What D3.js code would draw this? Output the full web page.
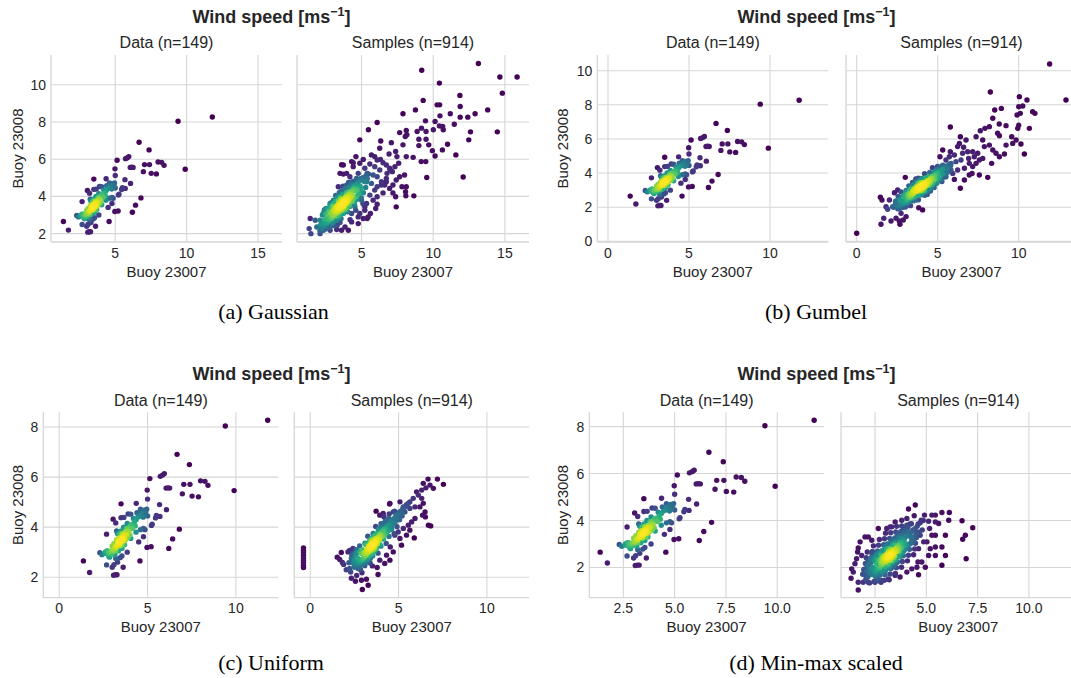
<!DOCTYPE html>
<html><head><meta charset="utf-8">
<script src="https://cdn.jsdelivr.net/npm/d3@7"></script>
<style>body{margin:0;background:#fff}svg{display:block}</style>
</head><body><svg id="c" width="1071" height="678"></svg>
<script>
// ---------- DATA ----------
const chartTitle = "Wind speed [ms";
const xLabel = "Buoy 23007";
const yLabel = "Buoy 23008";
const dataTitle = "Data (n=149)";
const sampleTitle = "Samples (n=914)";
const captions = ["(a) Gaussian", "(b) Gumbel", "(c) Uniform", "(d) Min-max scaled"];

const ticksA_x = [5, 10, 15], ticksA_y = [2, 4, 6, 8, 10];
const ticksB_x = [0, 5, 10], ticksB_y = [0, 2, 4, 6, 8, 10];
const ticksC_x = [0, 5, 10], ticksC_y = [2, 4, 6, 8];
const ticksD_x = [2.5, 5.0, 7.5, 10.0], ticksD_y = [2, 4, 6, 8];

// observed data, buoy 23007 vs buoy 23008 (same in all four sub-figures)
const observed = [
[11.8,8.27],[9.4,8.04],[9.9,5.46],[6.67,6.91],[7.37,6.5],[5.13,5.94],[5.72,6.03],[5.85,6.08],[5.95,6.14],[6.05,5.56],
[6.15,5.57],[6.25,5.56],[7.05,5.71],[7.4,5.71],[8.0,5.85],[8.25,5.83],[8.42,5.67],[6.97,5.33],[7.52,5.24],[7.88,5.21],
[4.98,5.48],[5.0,5.12],[3.5,4.93],[4.36,4.95],[6.8,3.92],[6.42,3.53],[6.2,3.15],[4.97,3.19],[5.2,3.22],[4.57,2.65],
[1.37,2.65],[1.72,2.19],[3.08,2.08],[3.18,2.1],[3.27,2.1],[3.62,2.4],[5.68,4.9],[6.07,4.7],[5.7,4.43],[5.45,4.37],
[5.5,4.47],[5.22,4.07],[5.26,4.12],[4.77,3.95],[4.77,3.62],[4.5,3.41],[2.68,3.72],[2.68,2.49],[2.3,2.98],[2.42,2.9],
[3.05,4.32],[3.2,4.17],[3.5,4.38],[3.66,4.39],[3.9,4.53],[4.05,4.52],[4.4,4.58],[4.6,4.72],[4.7,4.62],[4.8,4.68],
[4.9,4.62],[4.65,4.55],[4.85,4.5],[4.95,4.72],[4.75,4.4],[4.55,4.45],[5.0,4.45],[4.35,3.8],[4.6,3.9],[4.85,3.9],
[3.0,2.4],[3.1,2.5],[3.3,2.6],[3.45,2.78],[3.55,2.85],[3.85,3.0],[3.2,2.75],[2.85,2.8],[2.6,2.95],[2.75,3.05],
[3.5,3.5],[3.55,3.55],[3.45,3.45],[3.6,3.55],[3.4,3.45],[3.55,3.45],[3.5,3.6],[3.45,3.35],[3.65,3.65],[3.6,3.5],
[3.35,3.4],[3.5,3.4],[3.4,3.55],[3.7,3.7],[3.3,3.3],[3.75,3.8],[3.25,3.25],[3.65,3.45],[3.35,3.55],[3.8,3.7],
[3.2,3.15],[3.6,3.7],[3.4,3.3],[3.85,3.85],[3.15,3.2],[3.7,3.55],[3.3,3.45],[3.9,3.95],[3.1,3.05],[3.55,3.75],
[3.45,3.25],[3.95,3.8],[3.05,3.1],[4.0,4.05],[3.0,2.95],[3.75,3.5],[3.25,3.5],[4.1,4.1],[2.95,3.05],[3.6,3.3],
[3.4,3.7],[4.15,3.95],[2.9,2.9],[3.8,3.95],[3.2,3.05],[4.25,4.2],[2.85,3.0],[3.5,3.85],[3.55,3.15],[4.3,4.05],
[3.1,3.35],[3.9,3.6],[2.75,2.95],[4.35,4.3],[3.3,3.75],[3.7,3.3],[4.0,3.7],[3.0,3.25],[2.8,2.85],[4.2,4.35],
[3.65,4.0],[3.35,3.05],[4.45,4.4],[2.7,3.05],[3.85,4.15],[3.15,2.9],[4.05,3.55],[3.25,3.85],[2.6,3.0]
];

// Gaussian copula samples
const samplesGaussian = [
[13.15,11.14],[9.2,10.78],[14.65,10.42],[15.85,10.42],[10.43,10.09],[14.82,9.55],[11.86,9.43],[9.3,9.16],[10.27,8.92],[10.45,8.92],
[11.88,8.83],[13.8,8.65],[8.76,8.65],[7.89,8.44],[11.19,8.44],[10.47,8.33],[11.88,8.26],[12.41,8.26],[12.92,8.44],[9.46,8.06],
[10.13,8.03],[6.09,7.97],[11.47,7.88],[10.43,7.79],[10.66,7.76],[5.48,7.58],[8.12,7.54],[9.18,7.67],[10.01,7.58],[10.7,7.58],
[8.88,7.49],[9.5,7.49],[12.6,7.47],[14.47,7.47],[7.66,7.43],[8.16,7.31],[8.05,7.22],[4.88,7.04],[6.34,6.98],[7.08,6.89],
[7.89,6.77],[9.0,7.07],[9.0,6.73],[9.5,7.07],[9.69,6.77],[12.48,7.04],[11.0,6.8],[9.94,6.46],[10.13,6.17],[10.64,6.5],
[11.58,6.23],[7.38,6.41],[6.92,6.28],[6.27,6.59],[7.47,6.14],[7.59,5.78],[7.33,5.6],[8.12,6.14],[8.6,6.1],[9.16,5.87],
[9.48,5.87],[9.55,5.02],[12.09,5.04],[4.42,5.81],[3.61,5.7],[3.73,5.2],[7.0,5.42],[6.73,4.97],[6.39,4.61],[6.73,4.79],
[5.92,4.34],[6.5,4.19],[7.19,4.19],[7.38,3.98],[8.09,4.03],[8.65,4.03],[7.42,3.44],[5.99,3.35],[6.09,3.58],[5.62,3.08],
[5.39,2.81],[1.42,2.81],[1.35,2.27],[1.47,2.0],[2.11,2.0],
[5.69,6.23],[5.92,6.14],[6.09,5.96],[6.32,5.99],[6.5,5.81],[6.73,5.69],[6.96,5.51],[7.15,5.33],[6.78,5.24],[6.27,5.42],
[5.92,5.6],[5.58,5.74],[5.23,5.51],[5.39,5.24],[5.81,5.15],[6.09,5.06],[6.39,4.79],[6.62,4.61],[5.35,4.79],[5.69,4.7],
[6.09,4.52],[6.96,4.43],[7.19,4.61],[7.42,4.88],[7.66,5.06],[8.0,5.15],[7.82,4.52],[8.12,4.52],[8.07,4.25],[5.58,4.07],
[5.81,3.8],[6.09,3.98],[5.35,3.62],[5.23,3.26],[5.46,2.9],[4.77,2.9],[4.31,2.63],[3.85,2.36],[3.27,2.22],[2.81,2.18],
[2.34,2.18],[4.08,2.18],[3.61,2.18],[1.88,2.36],[2.23,2.54],[1.77,2.72],[4.42,5.6],[3.96,5.24],[4.19,5.06],[4.77,5.24],
[4.65,4.97],[3.73,5.69],[4.88,5.78],[5.12,5.99],[4.61,6.14],[4.31,5.87],
[4.54,3.44],[4.88,3.08],[5.12,2.81],[4.77,2.54],[4.31,3.08],[5.23,3.44],[5.0,3.8],[4.6,3.25],[5.1,3.6],[4.2,2.75],
[3.04,3.8],[3.38,4.52],[3.5,5.24],[2.81,3.62],[2.34,3.08],[2.53,3.35],
[3.6,3.6],[3.5,3.5],[3.7,3.7],[3.4,3.45],[3.8,3.75],[3.55,3.7],[3.65,3.5],[3.3,3.3],[3.9,3.9],[3.45,3.6],
[3.75,3.55],[3.2,3.2],[4.0,4.0],[3.35,3.5],[3.85,3.65],[3.1,3.05],[4.1,4.1],[3.6,3.85],[3.6,3.35],[3.0,3.0],
[4.2,4.2],[3.25,3.45],[3.95,3.75],[2.9,2.9],[4.3,4.3],[3.4,3.75],[3.8,3.45],[2.8,2.8],[4.4,4.4],[3.15,3.35],
[4.05,3.85],[2.7,2.7],[4.5,4.5],[3.5,3.95],[3.7,3.25],[2.6,2.6],[4.6,4.6],[3.0,3.25],[4.2,3.95],[2.5,2.5],
[4.75,4.7],[3.3,3.9],[3.9,3.3],[2.4,2.45],[4.85,4.85],[2.85,3.1],[4.35,4.05],[2.3,2.35],[5.0,4.9],[3.2,4.05],
[4.0,3.4],[2.55,2.8],[4.6,4.3],[2.75,3.2],[4.45,3.9],[2.35,2.6],[4.9,4.55],[3.05,3.6],[4.15,3.55],[2.2,2.3],
[5.1,5.0],[3.45,4.2],[3.75,3.1],[2.65,3.0],[4.7,4.35],[2.95,3.45],[4.3,3.75],[2.45,2.75],[4.95,4.4],[3.6,4.3],
[3.55,3.0],[2.15,2.45],[5.2,4.8],[3.85,4.4],[3.4,2.85],[2.5,3.05],[4.8,4.15],[2.8,3.5],[4.5,3.7],[2.25,2.2],
[5.3,5.1],[3.95,4.6],[3.2,2.7],[2.6,3.3],[4.65,4.0],[2.1,2.15],[5.4,4.95],[3.7,4.55],[3.0,2.6],[4.25,4.65],
[2.9,2.45],[4.1,4.75],[3.5,2.6],[2.4,3.2],[5.0,4.2],[2.7,2.35],[4.4,4.8],[3.3,2.45],[5.5,5.2],[2.05,2.35],
[3.7,3.6],[3.75,3.65],[3.65,3.55],[3.8,3.7],[3.6,3.5],[3.7,3.7],[3.7,3.5],[3.85,3.75],[3.55,3.45],[3.8,3.6],
[3.6,3.6],[3.9,3.8],[3.5,3.4],[3.75,3.75],[3.65,3.45],[3.95,3.85],[3.45,3.35],[3.85,3.65],[3.55,3.55],[4.0,3.9],
[3.4,3.3],[3.9,3.7],[3.5,3.5],[4.05,3.95],[3.35,3.25],[3.8,3.85],[3.6,3.35],[4.1,3.95],[3.3,3.25],[3.95,3.75],
[3.45,3.45],[4.15,4.05],[3.25,3.15],[3.7,3.85],[3.7,3.35],[4.2,4.1],[3.2,3.1],[4.0,3.8],[3.4,3.4],[4.25,4.1],
[3.15,3.05],[3.85,3.9],[3.55,3.3],[4.3,4.2],[3.1,3.0],[4.05,3.85],[3.35,3.35],[4.35,4.25],[3.05,2.95],[3.65,3.8],
[3.75,3.4],[4.4,4.3],[3.0,2.9],[4.1,3.8],[3.3,3.4],[3.9,4.0],[3.5,3.2],[4.45,4.35],[2.95,2.85],[3.8,3.5],
[3.6,3.75],[4.2,3.9],[3.2,3.3],[4.0,4.05],[3.4,3.15],[4.5,4.35],[2.9,2.8],[3.95,3.6],[3.45,3.65],[4.3,4.0],
[3.1,3.2],[3.55,3.9],[3.85,3.3],[4.15,4.2],[3.25,2.95],[4.55,4.45],[2.85,2.8],[4.05,3.7],[3.35,3.55],
[2.48,2.25],[2.11,2.72],[3.11,2.43],[2.95,2.62],[2.58,3.09],[2.42,3.29],[3.57,2.8],[3.42,2.99],[3.05,3.46],[2.89,3.66],
[4.04,3.17],[3.89,3.37],[3.51,3.83],[3.36,4.03],[4.51,3.54],[4.35,3.74],[3.98,4.21],[3.83,4.4],[4.98,3.92],[4.82,4.11],
[4.45,4.58],[4.3,4.77],[5.29,4.48],[4.92,4.95],[2.79,2.34],[2.27,3.0],[3.26,2.71],[2.74,3.37],[3.73,3.09],[3.21,3.74],
[4.19,3.46],[3.67,4.11],[4.66,3.83],[4.14,4.49],[5.13,4.2],[4.61,4.86]
];

// Gumbel copula samples
const samplesGumbel = [
[11.91,10.39],[12.92,8.28],[8.25,8.75],[10.04,8.48],[10.51,8.28],[8.52,7.7],[8.93,7.79],[10.0,7.89],[10.25,7.93],[10.86,7.6],
[11.0,7.5],[9.9,7.4],[10.1,7.5],[8.4,7.21],[8.8,6.88],[9.22,6.78],[10.66,6.62],[9.94,6.62],[10.0,6.8],[5.78,6.7],
[7.63,6.48],[7.92,6.62],[8.19,6.72],[8.7,6.33],[8.81,6.19],[9.57,6.13],
[6.4,6.13],[6.75,5.94],[7.37,6.13],[7.78,5.94],[9.84,5.94],[10.14,5.7],[9.63,5.74],[9.22,5.64],[8.19,5.64],[8.4,5.35],
[7.88,5.55],[8.6,5.16],[9.12,5.12],[8.81,4.96],[10.35,5.12],[8.33,4.57],[7.78,4.86],[7.26,4.96],[7.47,5.16],[6.91,4.86],
[7.16,5.25],[6.95,3.89],[7.12,3.98],[7.57,3.89],[8.09,3.75],[6.4,3.11],[6.03,3.63],[6.65,3.59],[5.93,3.98],[6.65,4.28],
[5.31,5.35],[5.14,4.96],[5.78,5.25],[6.23,5.55],[6.34,5.74],[6.6,5.51],
[5.51,4.77],[5.72,4.96],[6.03,5.06],[5.82,4.57],[6.13,4.67],[6.44,4.77],[6.54,5.16],[6.85,5.25],[6.95,4.57],[7.37,4.57],
[7.57,4.77],[7.16,4.38],[6.23,4.18],[5.82,4.18],[5.31,4.28],[4.9,4.18],[5.51,3.79],[5.21,3.59],[4.9,3.4],[4.59,3.2],
[4.18,2.91],[3.87,2.71],[3.83,1.97],[4.07,1.84],[3.66,2.42],[3.35,2.52],
[3.0,3.75],[1.46,2.58],[1.56,2.42],[1.5,1.0],[1.67,1.35],[2.12,1.19],[2.63,1.19],[2.67,1.0],[2.88,1.25],[0.0,0.47],
[1.91,1.88],[2.22,2.03],[2.33,2.85],[2.53,3.01],[1.81,2.03],[2.02,2.42],[2.84,2.03],[3.15,2.23],[2.74,1.64],[2.43,1.35],[3.05,1.45],
[4.0,3.2],[3.9,3.15],[4.1,3.3],[3.8,3.05],[4.2,3.35],[3.95,3.3],[4.05,3.1],[3.7,2.95],[4.3,3.45],[3.85,3.25],
[4.15,3.15],[3.6,2.9],[4.4,3.5],[3.75,3.15],[4.25,3.25],[3.5,2.8],[4.5,3.6],[4.0,3.45],[4.0,2.95],[3.4,2.7],
[4.6,3.7],[3.65,3.1],[4.35,3.3],[3.3,2.6],[4.7,3.8],[3.8,3.4],[4.2,3.0],[3.2,2.55],[4.8,3.85],[3.55,3.1],
[4.45,3.3],[3.1,2.45],[4.9,3.95],[3.9,3.55],[4.1,2.85],[3.0,2.35],[5.0,4.0],[3.45,2.95],[4.55,3.45],[2.9,2.3],
[5.1,4.1],[3.7,3.45],[4.3,2.95],[2.8,2.2],[5.2,4.15],[3.25,2.8],[4.75,3.6],[2.7,2.15],[5.3,4.2],[4.05,3.65],
[3.95,2.75],[2.6,2.05],[5.45,4.3],[3.15,2.75],[4.85,3.65],[3.5,3.3],[4.5,3.1],[2.95,2.6],[5.05,3.8],[3.35,3.15],
[4.65,3.25],[2.75,2.4],[5.25,3.95],[3.6,3.5],[4.4,2.9],[3.05,2.2],[4.95,4.2],[2.5,2.1],[5.5,4.4],[3.8,3.7],
[4.2,2.7],[2.85,2.0],[5.15,4.35],[3.3,3.0],[4.7,3.4],[2.65,2.45],[5.35,3.95],[3.55,2.6],[4.45,3.8],[2.4,2.2],
[5.6,4.25],[3.75,2.7],[4.25,3.7],[3.1,2.9],[4.9,3.5],[2.55,1.9],[5.7,4.5],[3.2,2.35],[4.8,4.05],[3.65,3.65],
[4.35,2.75],[2.3,2.0],[5.8,4.45],[3.0,2.75],[5.0,3.65],[3.45,3.45],[4.55,2.95],[2.45,2.35],[5.55,4.05],
[3.95,3.2],[4.0,3.25],[3.9,3.15],[4.05,3.2],[3.85,3.2],[4.0,3.15],[3.9,3.25],[4.1,3.3],[3.8,3.1],[4.05,3.3],
[3.85,3.1],[4.15,3.3],[3.75,3.1],[4.1,3.2],[3.8,3.2],[4.2,3.35],[3.7,3.05],[4.0,3.35],[3.9,3.05],[4.25,3.4],
[3.65,3.0],[4.15,3.4],[3.75,3.0],[4.3,3.45],[3.6,2.95],[4.2,3.25],[3.7,3.15],[4.35,3.5],[3.55,2.9],[3.95,3.4],
[3.95,3.0],[4.4,3.5],[3.5,2.85],[4.25,3.3],[3.65,3.1],[4.45,3.55],[3.45,2.85],[4.1,3.45],[3.8,2.95],[4.5,3.6],
[3.4,2.8],[4.3,3.35],[3.6,3.05],[4.55,3.65],[3.35,2.75],[3.85,3.4],[4.05,3.0],[4.6,3.65],[3.3,2.7],[4.35,3.55],
[3.55,2.95],[4.65,3.7],[3.25,2.65],[4.2,3.15],[3.7,3.25],[4.0,3.05],[3.9,3.35],
[2.69,1.94],[2.4,2.35],[3.32,2.09],[3.17,2.3],[2.88,2.7],[2.74,2.9],[3.81,2.44],[3.66,2.65],[3.37,3.05],[3.22,3.25],
[4.29,2.8],[4.15,3.0],[3.85,3.4],[3.71,3.61],[4.78,3.15],[4.63,3.35],[4.34,3.75],[4.19,3.96],[5.26,3.5],[5.12,3.7],
[4.83,4.1],[4.68,4.31],[5.6,4.05],[5.31,4.46],[3.01,2.01],[2.56,2.63],[3.49,2.37],[3.05,2.98],[3.98,2.72],[3.54,3.33],
[4.47,3.07],[4.02,3.68],[4.95,3.42],[4.51,4.04],[5.44,3.77],[4.99,4.39]
];

// Uniform-marginal samples
const samplesUniform = [
[-0.38,3.17],[-0.38,3.08],[-0.38,2.99],[-0.38,2.88],[-0.38,2.77],[-0.38,2.68],[-0.38,2.59],[-0.38,2.48],[-0.38,2.39],
[7.2,5.92],[7.54,5.71],[6.67,5.92],[6.97,5.55],[6.4,5.75],[6.55,5.57],[6.78,5.68],[6.31,5.48],
[6.02,5.41],[6.12,5.28],[5.83,5.15],[5.64,5.01],[6.31,5.15],[6.4,4.95],[6.21,4.81],[5.93,4.81],[5.64,4.75],[5.45,4.88],
[5.36,4.61],[5.17,4.55],[4.89,4.48],[4.7,4.61],[4.51,4.95],[5.08,5.01],[5.27,4.81],[6.5,4.61],[6.36,4.48],[5.93,4.35],
[5.74,4.21],[5.55,4.08],[5.27,3.95],[4.98,3.81],[4.79,3.68],[5.08,3.55],[5.45,3.68],[5.64,3.88],
[4.49,4.92],[3.73,4.64],[6.52,4.41],[6.69,4.08],[6.82,4.05],[5.89,3.57],[5.17,3.28],[4.53,3.21],[1.53,2.8],[1.67,2.71],
[1.82,2.59],[1.89,2.51],[1.76,2.99],[2.23,3.07],[2.29,2.21],[2.23,2.35],[2.56,1.84],[2.9,1.88],[3.18,1.92],[3.28,1.68],
[2.95,1.51],[3.84,2.11],[3.79,2.39],[3.52,2.45],[3.94,2.68],[4.22,2.55],[4.51,2.68],[4.32,2.88],[4.7,3.01],[3.94,4.48],
[4.13,4.55],[2.42,3.15],[2.14,3.01],[2.33,2.75],[2.52,2.61],[2.71,2.35],
[3.55,3.3],[3.45,3.2],[3.65,3.4],[3.35,3.1],[3.75,3.5],[3.5,3.4],[3.6,3.2],[3.25,3.0],[3.85,3.6],[3.4,3.3],
[3.7,3.3],[3.15,2.9],[3.95,3.7],[3.3,3.2],[3.8,3.4],[3.05,2.8],[4.05,3.8],[3.55,3.5],[3.55,3.1],[2.95,2.7],
[4.15,3.9],[3.2,3.1],[3.9,3.5],[2.85,2.65],[4.25,3.95],[3.45,3.55],[3.65,3.05],[2.75,2.6],[4.35,4.05],[3.1,3.0],
[4.0,3.6],[2.7,2.75],[4.45,4.1],[3.65,3.65],[3.45,2.95],[2.65,2.5],[4.55,4.2],[3.0,2.95],[4.1,3.65],[2.6,2.8],
[4.65,4.3],[3.8,3.75],[3.3,2.85],[2.55,2.65],[4.75,4.35],[2.9,2.95],[4.2,3.7],[2.5,2.9],[4.85,4.45],[3.9,3.9],
[3.2,2.7],[2.45,2.55],[4.95,4.5],[2.8,3.0],[4.3,3.75],[2.4,2.95],[5.05,4.6],[4.05,4.05],[3.1,2.6],[2.5,2.4],
[5.15,4.65],[2.7,3.05],[4.4,3.85],[3.35,3.45],[3.75,3.15],[4.6,4.0],[3.0,2.55],[5.25,4.75],[2.6,3.1],[4.5,3.9],
[3.6,3.7],[3.5,2.9],[4.7,4.15],[2.9,2.5],[5.35,4.8],[3.85,3.95],[3.25,2.6],[4.8,4.2],[2.35,2.7],[5.45,4.9],
[4.15,4.15],[2.95,3.1],[4.9,4.3],[3.4,2.75],[5.55,4.95],[2.75,2.4],[4.25,4.25],[5.0,4.35],[3.15,3.3],[3.95,3.3],
[5.1,4.5],[2.85,2.3],[4.45,4.35],[5.2,4.45],
[3.55,3.3],[3.6,3.35],[3.5,3.25],[3.65,3.4],[3.45,3.2],[3.6,3.25],[3.5,3.35],[3.7,3.45],[3.4,3.15],[3.65,3.3],
[3.45,3.3],[3.75,3.5],[3.35,3.1],[3.7,3.4],[3.4,3.2],[3.8,3.55],[3.3,3.05],[3.6,3.45],[3.5,3.15],[3.85,3.6],
[3.25,3.0],[3.75,3.45],[3.35,3.2],[3.9,3.6],[3.2,2.95],[3.8,3.45],[3.3,3.15],[3.95,3.7],[3.15,2.9],[3.55,3.5],
[3.55,3.1],[4.0,3.7],[3.1,2.85],[3.85,3.5],[3.25,3.1],[4.05,3.8],[3.05,2.8],[3.7,3.55],[3.4,3.05],[4.1,3.8],
[3.0,2.75],[3.9,3.5],[3.2,3.05],[4.15,3.85],[2.95,2.7],[3.45,3.4],[3.65,3.2],[4.2,3.9],[2.9,2.7],[3.95,3.65],
[3.15,2.95],[4.25,3.95],[2.85,2.65],[3.8,3.35],[3.3,3.25],[3.6,3.15],[3.5,3.45],
[2.33,1.96],[2.04,2.3],[2.93,2.18],[2.78,2.35],[2.5,2.69],[2.35,2.86],[3.39,2.57],[3.24,2.74],[2.95,3.08],[2.8,3.25],
[3.84,2.96],[3.69,3.13],[3.41,3.47],[3.26,3.64],[4.3,3.35],[4.15,3.52],[3.86,3.86],[3.71,4.03],[4.75,3.74],[4.61,3.91],
[4.32,4.25],[4.17,4.42],[5.06,4.3],[4.78,4.64],[2.63,2.07],[2.19,2.58],[3.09,2.46],[2.65,2.97],[3.54,2.85],[3.1,3.36],
[4.0,3.24],[3.56,3.75],[4.46,3.63],[4.01,4.14],[4.91,4.02],[4.47,4.53]
];

// Min-max scaled samples
const samplesMinMax = [
[4.46,4.66],[4.13,4.49],[4.41,4.2],[5.76,4.34],[6.12,4.34],[6.74,3.99],[7.26,3.69],[6.9,3.37],[6.77,3.2],[6.94,2.37],
[5.44,2.51],[5.76,2.09],[5.93,2.51],[5.76,2.87],[5.11,3.97],[5.6,3.87],[5.16,3.66],[5.27,3.37],[5.44,3.37],[4.7,3.37],
[4.87,3.09],[4.62,2.8],[5.19,2.8],[4.59,2.23],[4.62,1.69],[1.68,1.04],[1.33,1.54],[1.68,1.37],[1.92,1.37],[2.17,1.37],
[2.5,1.37],[2.79,1.37],[1.68,2.83],[1.65,2.66],[2.17,3.3],[2.34,3.16],
[6.09,4.01],[5.44,3.94],[5.27,4.23],[4.91,4.23],[4.75,4.01],[5.44,4.23],[5.93,3.37],[5.44,2.87],[5.03,3.09],[5.11,2.51],
[4.78,2.23],[4.54,2.01],[4.95,2.01],[4.29,1.94],[4.05,1.8],[3.72,1.59],[3.48,1.66],[3.15,1.51],[2.83,1.44],[1.36,1.94],
[1.52,2.16],[1.44,1.8],[1.6,2.37],[1.85,2.51],[1.77,3.09],[2.01,3.3],[2.66,3.66],[3.07,3.66],[3.23,3.73],[3.48,3.94],
[3.8,4.01],[4.05,4.09],
[3.25,2.55],[3.15,2.45],[3.35,2.65],[3.05,2.35],[3.45,2.75],[3.2,2.65],[3.3,2.45],[2.95,2.25],[3.55,2.85],[3.1,2.55],
[3.4,2.55],[2.85,2.15],[3.65,2.95],[3.0,2.45],[3.5,2.65],[2.75,2.05],[3.75,3.05],[3.25,2.8],[3.25,2.3],[2.65,1.95],
[3.85,3.15],[2.9,2.4],[3.6,2.7],[2.55,1.9],[3.95,3.25],[3.15,2.8],[3.35,2.3],[2.45,1.8],[4.05,3.35],[2.8,2.35],
[3.7,2.8],[2.4,2.0],[4.15,3.45],[3.35,2.95],[3.15,2.15],[2.35,1.7],[4.25,3.5],[2.7,2.3],[3.8,2.85],[2.3,1.95],
[4.35,3.6],[3.5,3.1],[3.0,2.05],[2.25,1.75],[4.45,3.65],[2.6,2.35],[3.9,2.95],[2.2,2.1],[4.55,3.75],[3.65,3.25],
[2.9,1.9],[2.15,1.6],[4.6,3.85],[2.5,2.4],[4.0,3.0],[2.1,1.85],[3.05,2.75],[3.45,2.35],[4.3,3.2],[2.6,1.75],
[4.7,3.9],[2.3,2.3],[3.8,3.35],[3.0,1.85],[4.1,3.7],[2.0,1.7],[4.4,3.3],[2.75,2.6],[3.55,2.2],[4.8,3.6],
[2.4,2.45],[3.95,3.5],[3.25,1.95],[2.05,1.5],[4.5,3.45],[2.85,2.7],[3.7,2.45],[4.2,3.85],[2.55,2.55],[3.4,2.05],
[4.65,3.5],[2.15,2.25],[3.1,3.0],[3.9,2.7],[1.95,1.9],[4.85,4.0],[2.5,1.65],[3.6,3.45],[2.35,2.6],[4.25,3.05],[2.8,1.8],
[3.2,2.5],[3.25,2.55],[3.15,2.45],[3.3,2.6],[3.1,2.4],[3.25,2.45],[3.15,2.55],[3.35,2.65],[3.05,2.35],[3.3,2.5],
[3.1,2.5],[3.4,2.7],[3.0,2.3],[3.35,2.6],[3.05,2.4],[3.45,2.75],[2.95,2.25],[3.25,2.65],[3.15,2.35],[3.5,2.8],
[2.9,2.2],[3.4,2.6],[3.0,2.4],[3.55,2.8],[2.85,2.15],[3.45,2.65],[2.95,2.35],[3.6,2.9],[2.8,2.1],[3.2,2.7],
[3.2,2.3],[3.65,2.9],[2.75,2.05],[3.5,2.7],[2.9,2.3],[3.7,3.0],[2.7,2.0],[3.35,2.75],[3.05,2.25],[3.75,3.0],
[2.65,1.95],[3.55,2.7],[2.85,2.25],[3.8,3.05],[2.6,1.9],[3.1,2.6],[3.3,2.4],[3.85,3.1],[2.55,1.85],[3.6,2.85],
[2.8,2.2],[3.9,3.15],[2.5,1.8],[3.45,2.5],[2.95,2.5],[3.25,2.35],[3.15,2.6],
[2.23,1.34],[1.9,1.71],[2.7,1.43],[2.53,1.61],[2.19,1.98],[2.03,2.17],[3.19,1.47],[2.99,1.69],[2.83,1.88],[2.49,2.25],
[2.32,2.43],[2.12,2.66],[3.49,1.74],[3.29,1.96],[3.12,2.15],[2.79,2.52],[2.62,2.7],[2.42,2.92],[3.79,2.01],[3.59,2.23],
[3.42,2.42],[3.08,2.79],[2.92,2.97],[2.71,3.19],[4.08,2.28],[3.88,2.5],[3.71,2.68],[3.38,3.05],[3.21,3.24],[3.01,3.46],
[4.38,2.54],[4.18,2.77],[4.01,2.95],[3.67,3.32],[3.51,3.51],[3.31,3.73],[4.47,3.03],[4.31,3.22],[3.97,3.59],[3.8,3.77],
[4.6,3.49],[4.27,3.86],
[2.45,1.4],[1.98,1.92],[2.95,1.45],[2.74,1.67],[2.28,2.19],[2.07,2.41],[3.24,1.72],[3.04,1.94],[2.57,2.46],[2.37,2.68],
[3.54,1.99],[3.34,2.21],[2.87,2.73],[2.67,2.95],[3.83,2.25],[3.63,2.48],[3.16,2.99],[2.96,3.22],[4.13,2.52],[3.93,2.74],
[3.46,3.26],[3.26,3.48],[4.43,2.79],[4.22,3.01],[3.76,3.53],[3.55,3.75],[4.52,3.28],[4.05,3.8],
[2.62,1.51],[2.44,1.71],[2.28,1.88],[2.11,2.08],[2.91,1.78],[2.74,1.98],[2.58,2.15],[2.4,2.35],[3.21,2.05],[3.03,2.24],
[2.87,2.42],[2.7,2.61],[3.5,2.32],[3.33,2.51],[3.17,2.69],[3.0,2.88],[3.8,2.59],[3.63,2.78],[3.47,2.96],[3.29,3.15],
[4.1,2.85],[3.92,3.05],[3.76,3.22],[3.59,3.42],[4.39,3.12],[4.22,3.32],[4.06,3.49],[3.88,3.69]
];

// ---------- RENDERING ----------
const svg = d3.select("#c");
const SANS = "'Liberation Sans', Arial, sans-serif";
const TXT = "#262626", GRID = "#d6d6d6";

function kde(pts, bwScale) {
  const n = pts.length;
  const mx = d3.mean(pts, p => p[0]), my = d3.mean(pts, p => p[1]);
  let sxx = 0, syy = 0, sxy = 0;
  pts.forEach(([x, y]) => { sxx += (x-mx)**2; syy += (y-my)**2; sxy += (x-mx)*(y-my); });
  sxx /= n-1; syy /= n-1; sxy /= n-1;
  const f2 = Math.pow(n, -1/3) * bwScale;
  const a = sxx*f2, b = sxy*f2, d = syy*f2, det = a*d - b*b;
  const ia = d/det, ib = -b/det, id = a/det;
  return pts.map(([x, y]) => {
    let s = 0;
    for (const [u, v] of pts) { const dx = x-u, dy = y-v; s += Math.exp(-0.5*(ia*dx*dx + 2*ib*dx*dy + id*dy*dy)); }
    return s;
  });
}

function drawPanel(x0, x1, y0, y1, xDom, yDom, xt, yt, fmt, pts, showY, bwScale) {
  const xs = d3.scaleLinear().domain(xDom).range([x0, x1]);
  const ys = d3.scaleLinear().domain(yDom).range([y1, y0]);
  const g = svg.append("g");
  g.selectAll(".gx").data(xt).join("line")
    .attr("x1", d => xs(d)).attr("x2", d => xs(d)).attr("y1", y0).attr("y2", y1)
    .attr("stroke", GRID).attr("stroke-width", 1.1);
  g.selectAll(".gy").data(yt).join("line")
    .attr("y1", d => ys(d)).attr("y2", d => ys(d)).attr("x1", x0).attr("x2", x1)
    .attr("stroke", GRID).attr("stroke-width", 1.1);
  g.append("line").attr("x1", x0).attr("x2", x0).attr("y1", y0).attr("y2", y1).attr("stroke", GRID).attr("stroke-width", 1.3);
  g.append("line").attr("x1", x0).attr("x2", x1).attr("y1", y1).attr("y2", y1).attr("stroke", GRID).attr("stroke-width", 1.3);
  g.selectAll(".tx").data(xt).join("text")
    .attr("x", d => xs(d)).attr("y", y1 + 15.5).attr("text-anchor", "middle")
    .attr("font-family", SANS).attr("font-size", 14).attr("fill", TXT).text(d => fmt(d));
  if (showY) {
    g.selectAll(".ty").data(yt).join("text")
      .attr("x", x0 - 5).attr("y", d => ys(d)).attr("dy", "0.36em").attr("text-anchor", "end")
      .attr("font-family", SANS).attr("font-size", 14).attr("fill", TXT).text(d => d);
  }
  const dens = kde(pts, bwScale);
  const [lo, hi] = d3.extent(dens);
  const order = d3.range(pts.length).sort((i, j) => dens[i] - dens[j]);
  g.selectAll("circle").data(order).join("circle")
    .attr("cx", i => xs(pts[i][0])).attr("cy", i => ys(pts[i][1])).attr("r", 2.7)
    .attr("fill", i => d3.interpolateViridis((dens[i] - lo) / (hi - lo)));
  g.append("text").attr("x", (x0 + x1) / 2).attr("y", y1 + 34.5).attr("text-anchor", "middle")
    .attr("font-family", SANS).attr("font-size", 15).attr("fill", TXT).text(xLabel);
}

const intFmt = d => d3.format("d")(d), decFmt = d => d3.format(".1f")(d);

const figs = [
  {dx:[51,282], sx:[297,529], y:[55,242], xDom:[0.5,16.68], yDom:[1.55,11.6], xt:ticksA_x, yt:ticksA_y, fmt:intFmt, samp:samplesGaussian, title:271.5, cap:273.5, capY:319, ylx:22.5, tY:22.7},
  {dx:[597.3,828.3], sx:[846,1077], y:[55,242], xDom:[-0.66,13.6], yDom:[-0.04,10.92], xt:ticksB_x, yt:ticksB_y, fmt:intFmt, samp:samplesGumbel, title:816.5, cap:816, capY:319, ylx:568, tY:22.7},
  {dx:[43.3,278.3], sx:[294.3,529.3], y:[412.3,597.7], xDom:[-0.9,12.4], yDom:[1.18,8.59], xt:ticksC_x, yt:ticksC_y, fmt:intFmt, samp:samplesUniform, title:271.5, cap:271, capY:670, ylx:22.5, tY:380},
  {dx:[589.3,824], sx:[841,1075.7], y:[412.3,597.7], xDom:[0.84,12.28], yDom:[0.71,8.61], xt:ticksD_x, yt:ticksD_y, fmt:decFmt, samp:samplesMinMax, title:816.5, cap:816, capY:670, ylx:568, tY:380}
];

figs.forEach((f, k) => {
  drawPanel(f.dx[0], f.dx[1], f.y[0], f.y[1], f.xDom, f.yDom, f.xt, f.yt, f.fmt, observed, true, 0.8);
  drawPanel(f.sx[0], f.sx[1], f.y[0], f.y[1], f.xDom, f.yDom, f.xt, f.yt, f.fmt, f.samp, false, 1.0);
  const t = svg.append("text").attr("x", f.title).attr("y", f.tY).attr("text-anchor", "middle")
    .attr("font-family", SANS).attr("font-size", 18).attr("font-weight", "bold").attr("fill", TXT);
  t.append("tspan").text(chartTitle);
  t.append("tspan").attr("font-size", 12.5).attr("dy", -7).text("\u22121");
  t.append("tspan").attr("dy", 7).text("]");
  [[f.dx, dataTitle], [f.sx, sampleTitle]].forEach(([r, s]) => {
    svg.append("text").attr("x", (r[0] + r[1]) / 2).attr("y", f.y[0] - 6.7).attr("text-anchor", "middle")
      .attr("font-family", SANS).attr("font-size", 16).attr("fill", TXT).text(s);
  });
  svg.append("text").attr("transform", `translate(${f.ylx},${(f.y[0] + f.y[1]) / 2}) rotate(-90)`)
    .attr("text-anchor", "middle").attr("font-family", SANS).attr("font-size", 15).attr("fill", TXT).text(yLabel);
  svg.append("text").attr("x", f.cap).attr("y", f.capY).attr("text-anchor", "middle")
    .attr("font-family", "'Liberation Serif', 'Times New Roman', serif").attr("font-size", 22).attr("fill", "#000").text(captions[k]);
});
</script></body></html>
